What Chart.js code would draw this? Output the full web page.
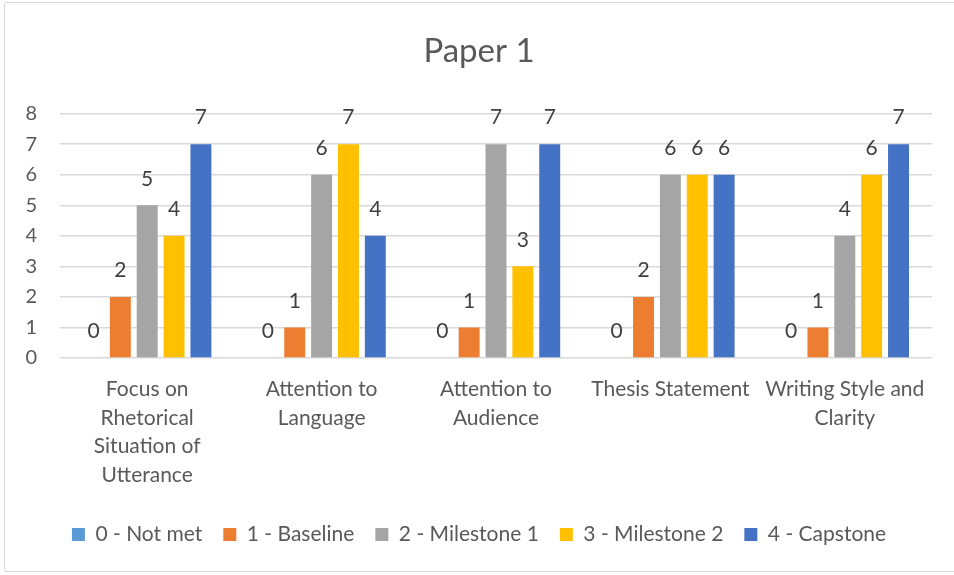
<!DOCTYPE html>
<html>
<head>
<meta charset="utf-8">
<script src="https://cdn.jsdelivr.net/npm/chart.js@4"></script>
<style>
    body { margin: 0; background: #fff; overflow: hidden; }
    .frame { margin: 2px 0 0 4px; width: 966px; height: 568px; border: 1px solid #d9d9d9; border-radius: 2px; }
</style>
</head>
<body>
<div class="frame"><canvas id="chart" width="964" height="568"></canvas></div>
<script>
const categories = [
    ['Focus on', 'Rhetorical', 'Situation of', 'Utterance'],
    ['Attention to', 'Language'],
    ['Attention to', 'Audience'],
    'Thesis Statement',
    ['Writing Style and', 'Clarity']
];
const notMet = [0, 0, 0, 0, 0];
const baseline = [2, 1, 1, 2, 1];
const milestone1 = [5, 6, 7, 6, 4];
const milestone2 = [4, 7, 3, 6, 6];
const capstone = [7, 4, 7, 6, 7];
const yTicks = [0, 1, 2, 3, 4, 5, 6, 7, 8];

const font = 'Lato, "Open Sans", sans-serif';

// draws the value on top of every bar, like excel data labels
const valueLabels = {
    id: 'valueLabels',
    afterDatasetsDraw(chart) {
        const ctx = chart.ctx;
        ctx.save();
        ctx.font = '21px ' + font;
        ctx.fillStyle = '#404040';
        ctx.textAlign = 'center';
        ctx.textBaseline = 'bottom';
        chart.data.datasets.forEach((ds, i) => {
            chart.getDatasetMeta(i).data.forEach((bar, j) => {
                ctx.fillText(ds.data[j], bar.x, bar.y - 16);
            });
        });
        ctx.restore();
    }
};

const chart = document.getElementById('chart');

new Chart(chart, {
    type: 'bar',
    data: {
        labels: categories,
        datasets: [
            { label: '0 - Not met', data: notMet, backgroundColor: '#5B9BD5' },
            { label: '1 - Baseline', data: baseline, backgroundColor: '#ED7D31' },
            { label: '2 - Milestone 1', data: milestone1, backgroundColor: '#A5A5A5' },
            { label: '3 - Milestone 2', data: milestone2, backgroundColor: '#FFC000' },
            { label: '4 - Capstone', data: capstone, backgroundColor: '#4472C4' }
        ]
    },
    options: {
        responsive: false,
        animation: false,
        categoryPercentage: 0.77,
        barPercentage: 0.78,
        layout: { padding: { left: 21, right: 37, bottom: 16 } },
        plugins: {
            title: {
                display: true,
                text: 'Paper 1',
                color: '#595959',
                font: { family: font, size: 33, weight: 'normal' },
                padding: { top: 29, bottom: 42 }
            },
            legend: {
                position: 'bottom',
                labels: {
                    color: '#595959',
                    font: { family: font, size: 21 },
                    boxWidth: 13,
                    boxHeight: 13,
                    padding: 21
                }
            },
            tooltip: { enabled: false }
        },
        scales: {
            x: {
                grid: { display: false },
                border: { display: false },
                afterFit: (axis) => { axis.height += 5; },
                ticks: {
                    color: '#595959',
                    font: { family: font, size: 21, lineHeight: 1.357 },
                    autoSkip: false,
                    maxRotation: 0,
                    padding: 9
                }
            },
            y: {
                min: 0,
                max: 8,
                afterBuildTicks: (axis) => { axis.ticks = yTicks.map(v => ({ value: v })); },
                afterFit: (axis) => { axis.width = 34; },
                grid: { color: '#d9d9d9', lineWidth: 1.5, drawTicks: false, tickLength: 0 },
                border: { display: false },
                ticks: {
                    color: '#595959',
                    font: { family: font, size: 20 },
                    padding: 23
                }
            }
        }
    },
    plugins: [valueLabels]
});
</script>
</body>
</html>
